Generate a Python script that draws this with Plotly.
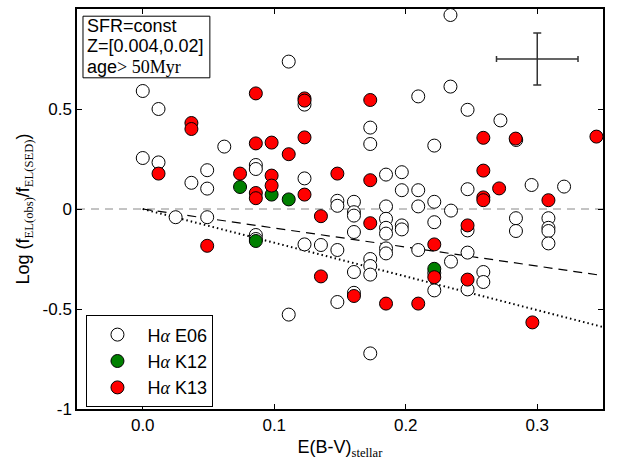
import plotly.graph_objects as go

# ---- data ----
e06_x = [0.000, 0.012, 0.111, 0.123, 0.2095, 0.173, 0.234, 0.234, 0.247, 0.272, 0.284,
         0.062, 0.000, 0.012, 0.049, 0.037, 0.049, 0.086, 0.086, 0.025, 0.049, 0.086, 0.086,
         0.173, 0.123, 0.185, 0.197, 0.197, 0.2095, 0.148, 0.148, 0.1606, 0.1606, 0.1606,
         0.185, 0.2095, 0.185, 0.185, 0.185, 0.197, 0.197, 0.1606, 0.123, 0.1355, 0.148,
         0.185, 0.185, 0.2095, 0.173, 0.173, 0.173, 0.2217, 0.247, 0.2957, 0.3204, 0.2217,
         0.2344, 0.2217, 0.2838, 0.2838, 0.3085, 0.3085, 0.3085, 0.3085, 0.247, 0.247,
         0.2344, 0.2217, 0.2217, 0.247, 0.259, 0.259, 0.1606, 0.1606, 0.148, 0.111, 0.173]
e06_y = [0.59, 0.50, 0.737, 0.522, 0.563, 0.407, 0.97, 0.612, 0.496, 0.443, 0.345,
         0.312, 0.255, 0.233, 0.194, 0.131, 0.102, 0.22, 0.20, -0.041, -0.041, -0.13, -0.15,
         0.325, 0.153, 0.172, 0.184, 0.094, 0.094, 0.041, 0.016, 0.036, -0.016, -0.033,
         0.013, 0.013, -0.049, -0.094, -0.123, -0.082, -0.102, -0.115, -0.177, -0.18, -0.205,
         -0.197, -0.222, -0.205, -0.25, -0.285, -0.328, 0.317, 0.099, 0.12, 0.112, 0.036,
         -0.008, -0.066, -0.046, -0.11, -0.046, -0.094, -0.11, -0.172, -0.107, -0.218,
         -0.263, -0.32, -0.407, -0.402, -0.315, -0.365, -0.315, -0.419, -0.465, -0.528, -0.722]

k12_x = [0.074, 0.098, 0.111, 0.086, 0.2217]
k12_y = [0.110, 0.072, 0.048, -0.16, -0.299]

k13_x = [0.037, 0.037, 0.086, 0.123, 0.123, 0.173, 0.259, 0.345, 0.086, 0.098, 0.123,
         0.111, 0.012, 0.074, 0.086, 0.086, 0.098, 0.098, 0.123, 0.148, 0.173, 0.049,
         0.1355, 0.173, 0.2217, 0.259, 0.2836, 0.271, 0.259, 0.259, 0.3085, 0.247,
         0.2217, 0.247, 0.2963, 0.1355, 0.1606, 0.185, 0.2095]
k13_y = [0.43, 0.40, 0.578, 0.553, 0.542, 0.545, 0.356, 0.362, 0.328, 0.332, 0.358,
         0.274, 0.177, 0.177, 0.08, 0.054, 0.167, 0.117, 0.072, 0.177, 0.144, -0.184,
         -0.036, -0.071, -0.177, 0.192, 0.352, 0.103, 0.058, 0.044, 0.044, -0.082,
         -0.341, -0.353, -0.567, -0.337, -0.435, -0.473, -0.473]

dash_x = [0.0, 0.35]
dash_y = [0.0, -0.333]
dot_x = [0.0, 0.35]
dot_y = [0.0, -0.59]

err_x = [0.30]
err_y = [0.75]
err_dx = [0.031]
err_dy = [0.13]

x_ticks = [0.0, 0.1, 0.2, 0.3]
x_tick_text = ["0.0", "0.1", "0.2", "0.3"]
y_ticks = [-1, -0.5, 0, 0.5, 1]
y_tick_text = ["-1", "-0.5", "0", "0.5", "1"]

info_lines = ["SFR=const", "Z=[0.004,0.02]", "age"]
info_suffix = "&gt; 50Myr"

SANS = "Liberation Sans, Arial, sans-serif"
SERIF = "'Liberation Serif'"

def alpha_label(rest):
    return ("H<span style=\"font-family:" + SERIF + ";font-style:italic\">α</span> " + rest)

fig = go.Figure()

# zero reference line
fig.add_trace(go.Scatter(x=[-0.05, 0.35], y=[0, 0], mode="lines",
                         line=dict(color="#888888", width=1, dash="8px,6px"),
                         showlegend=False, hoverinfo="skip"))
fig.add_trace(go.Scatter(x=dash_x, y=dash_y, mode="lines",
                         line=dict(color="black", width=1.2, dash="9px,6px"),
                         showlegend=False, hoverinfo="skip"))
fig.add_trace(go.Scatter(x=dot_x, y=dot_y, mode="lines",
                         line=dict(color="black", width=2, dash="1.5px,3px"),
                         showlegend=False, hoverinfo="skip"))

mk = dict(size=13, line=dict(color="black", width=1))
fig.add_trace(go.Scatter(x=e06_x, y=e06_y, mode="markers", name=alpha_label("E06"),
                         marker=dict(color="white", **mk)))
fig.add_trace(go.Scatter(x=k12_x, y=k12_y, mode="markers", name=alpha_label("K12"),
                         marker=dict(color="#008000", **mk)))
fig.add_trace(go.Scatter(x=k13_x, y=k13_y, mode="markers", name=alpha_label("K13"),
                         marker=dict(color="#ff0000", **mk)))

# typical error cross
fig.add_trace(go.Scatter(x=err_x, y=err_y, mode="markers",
                         marker=dict(size=0.1, color="#333333"),
                         error_x=dict(type="data", array=err_dx, color="#333333", thickness=1.5, width=3),
                         error_y=dict(type="data", array=err_dy, color="#333333", thickness=1.5, width=4),
                         showlegend=False, hoverinfo="skip"))

# info box
fig.add_shape(type="rect", xref="paper", yref="paper", x0=0.0114, x1=0.2526, y0=0.828, y1=0.982,
              line=dict(color="black", width=1), fillcolor="white", layer="above")
line_y = [0.958, 0.907, 0.856]
for i, t in enumerate(info_lines):
    txt = t
    if i == 2:
        txt = t + "<span style=\"font-family:" + SERIF + "\">" + info_suffix + "</span>"
    fig.add_annotation(xref="paper", yref="paper", x=0.0147, y=line_y[i],
                       xanchor="left", yanchor="middle", showarrow=False, text=txt,
                       font=dict(family=SANS, size=18, color="black"))

axis_common = dict(showgrid=False, zeroline=False, showline=True, linecolor="black",
                   linewidth=1.5, mirror="ticks", ticks="inside", ticklen=5,
                   tickcolor="black", tickwidth=1.2,
                   tickfont=dict(family=SANS, size=17, color="black"))

fig.update_xaxes(range=[-0.05, 0.35], tickvals=x_ticks, ticktext=x_tick_text,
                 title=dict(text="E(B-V)<sub><span style=\"font-family:" + SERIF + "\">stellar</span></sub>",
                            font=dict(family=SANS, size=18, color="black"), standoff=6),
                 **axis_common)
fig.update_yaxes(range=[-1, 1], tickvals=y_ticks, ticktext=y_tick_text,
                 title=dict(text=("Log (f<sub><span style=\"font-family:" + SERIF + "\">EL(obs)</span></sub>"
                                  "/f<sub><span style=\"font-family:" + SERIF + "\">EL(SED)</span></sub>)"),
                            font=dict(family=SANS, size=18, color="black"), standoff=8),
                 **axis_common)

fig.update_layout(
    width=628, height=461,
    margin=dict(l=77, r=25, t=7, b=48),
    plot_bgcolor="white", paper_bgcolor="white",
    font=dict(family=SANS, size=17, color="black"),
    legend=dict(x=0.018, y=0.004, xanchor="left", yanchor="bottom",
                bordercolor="black", borderwidth=1, bgcolor="white",
                font=dict(family=SANS, size=18, color="black"),
                itemwidth=50, tracegroupgap=0),
)

fig.write_html("out.html")
